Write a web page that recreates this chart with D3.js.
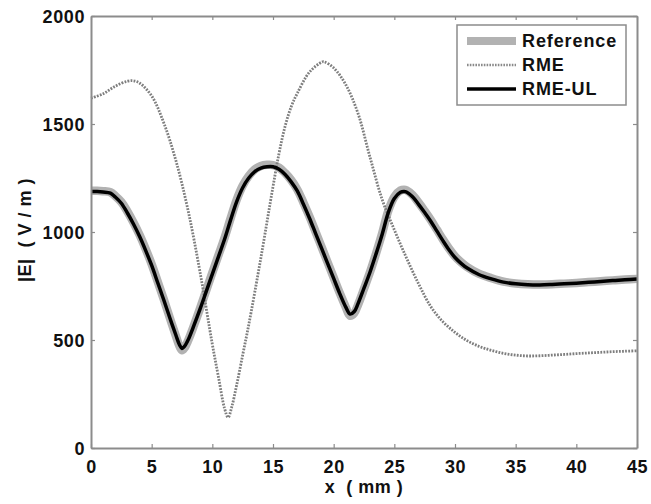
<!DOCTYPE html>
<html><head><meta charset="utf-8">
<script src="https://cdn.jsdelivr.net/npm/d3@7"></script>
<style>body{margin:0;background:#fff}</style>
</head><body>
<script>
// ---- data ----
const xTicks = [0,5,10,15,20,25,30,35,40,45];
const yTicks = [0,500,1000,1500,2000];
const seriesNames = ["Reference","RME","RME-UL"];

const rmeX = [0,1,2,3,3.5,4,5,6,7,8,9,10,10.5,11,11.3,11.6,12,12.5,13,14,15,15.5,16,16.5,17,18,19,19.2,20,21,22,23,24,25,26,27,28,29,30,31,32,33,34,35,36,37,38,39,40,41,42,43,44,45];
const rmeY = [1620,1640,1675,1698,1700,1690,1630,1505,1330,1100,810,480,330,185,142,190,290,430,570,880,1210,1365,1490,1580,1642,1740,1786,1788,1760,1682,1550,1345,1150,1010,880,760,655,585,535,497,470,452,438,430,426,427,430,433,437,440,443,446,448,450];

const ulX = [0,0.5,1,1.6,2,2.5,3,3.5,4,4.5,5,5.5,6,6.5,7,7.3,7.5,7.7,8,8.5,9,9.5,10,10.5,11,11.5,12,12.5,13,13.5,14,14.5,15,15.5,16,16.5,17,17.5,18,18.5,19,19.5,20,20.5,21,21.35,21.7,22,22.5,23,23.5,24,24.5,25,25.5,25.8,26,26.5,27,27.5,28,28.5,29,29.5,30,30.5,31,32,33,34,35,36,37,38,39,40,41,42,43,44,45];
const ulY = [1187,1187,1185,1180,1162,1133,1088,1037,980,915,845,765,685,602,522,477,461,470,500,570,645,725,805,885,965,1055,1140,1205,1250,1280,1296,1302,1302,1290,1266,1232,1190,1130,1065,995,925,855,785,715,652,620,632,667,740,815,900,990,1090,1155,1184,1188,1185,1163,1128,1090,1050,1005,960,918,882,855,833,802,783,768,760,756,755,757,760,763,767,771,775,779,782];

const refX = ulX;
const refY = [1191,1191,1189,1184,1167,1139,1095,1044,987,922,851,770,688,602,518,470,452,463,497,570,648,730,812,892,972,1062,1148,1214,1259,1290,1306,1311,1310,1298,1273,1240,1197,1137,1072,1002,931,860,789,718,652,612,625,662,737,815,902,995,1098,1163,1192,1196,1193,1171,1136,1097,1056,1011,966,924,887,860,838,806,786,770,762,758,757,758,761,764,768,772,776,780,783];

// ---- layout ----
const W = 651, H = 504;
const L = 91, R = 637, T = 16, B = 448;
const svg = d3.select("body").append("svg").attr("width", W).attr("height", H);
const x = d3.scaleLinear().domain([0,45]).range([L,R]);
const y = d3.scaleLinear().domain([0,2000]).range([B,T]);
const font = "'Liberation Sans', Arial, sans-serif";

const line = d3.line().x(d=>x(d[0])).y(d=>y(d[1])).curve(d3.curveCatmullRom.alpha(0.5));
const zip = (a,b)=>a.map((v,i)=>[v,b[i]]);

// reference (thick gray)
svg.append("path").datum(zip(refX,refY)).attr("d",line)
  .attr("fill","none").attr("stroke","#b2b2b2").attr("stroke-width",8.5).attr("stroke-linejoin","round");
// RME (dotted gray)
svg.append("path").datum(zip(rmeX,rmeY)).attr("d",line)
  .attr("fill","none").attr("stroke","#7e7e7e").attr("stroke-width",2.8).attr("stroke-dasharray","1.8,1.3");
// RME-UL (black)
svg.append("path").datum(zip(ulX,ulY)).attr("d",line)
  .attr("fill","none").attr("stroke","#000").attr("stroke-width",3.5).attr("stroke-linejoin","round");

// axes box + inward ticks
const axCol = "#8c8c8c";
const gB = svg.append("g").attr("transform",`translate(0,${B})`)
  .call(d3.axisBottom(x).tickValues(xTicks).tickSizeInner(-4).tickSizeOuter(0).tickPadding(9).tickFormat(d3.format("d")));
const gT = svg.append("g").attr("transform",`translate(0,${T})`)
  .call(d3.axisTop(x).tickValues(xTicks).tickSizeInner(-4).tickSizeOuter(0).tickFormat(""));
const gL = svg.append("g").attr("transform",`translate(${L},0)`)
  .call(d3.axisLeft(y).tickValues(yTicks).tickSizeInner(-4).tickSizeOuter(0).tickPadding(6).tickFormat(d3.format("d")));
const gR = svg.append("g").attr("transform",`translate(${R},0)`)
  .call(d3.axisRight(y).tickValues(yTicks).tickSizeInner(-4).tickSizeOuter(0).tickFormat(""));
[gB,gT,gL,gR].forEach(g=>{
  g.selectAll("path.domain").attr("stroke",axCol).attr("stroke-width",2);
  g.selectAll(".tick line").attr("stroke",axCol).attr("stroke-width",1.2);
  g.selectAll(".tick text").attr("fill","#111").style("font-family",font).style("font-weight","bold")
    .style("font-size","18px").style("letter-spacing","0.6px");
});
gB.selectAll(".tick text").attr("dy","0.9em");
gL.selectAll(".tick text").attr("dy","0.36em");

// axis titles
svg.append("text").attr("x",(L+R)/2).attr("y",493).attr("text-anchor","middle")
  .style("font-family",font).style("font-weight","bold").style("font-size","18px").attr("fill","#111")
  .style("letter-spacing","0.5px").attr("xml:space","preserve").text("x  ( mm )");
svg.append("text").attr("transform",`translate(31,230) rotate(-90)`).attr("text-anchor","middle")
  .style("font-family",font).style("font-weight","bold").style("font-size","18px").attr("fill","#111")
  .style("letter-spacing","0.5px").attr("xml:space","preserve").text("|E|  ( V / m )");

// legend
const lg = svg.append("g");
lg.append("rect").attr("x",457).attr("y",25).attr("width",169).attr("height",80)
  .attr("fill","#fff").attr("stroke",axCol).attr("stroke-width",1.5);
const lgStyles = [
  {stroke:"#b2b2b2", w:8, dash:null},
  {stroke:"#8a8a8a", w:2.5, dash:"1.6,1.2"},
  {stroke:"#000", w:3.5, dash:null}
];
const lgY = [41, 65, 89];
seriesNames.forEach((n,i)=>{
  lg.append("line").attr("x1",467).attr("x2",516).attr("y1",lgY[i]).attr("y2",lgY[i])
    .attr("stroke",lgStyles[i].stroke).attr("stroke-width",lgStyles[i].w)
    .attr("stroke-dasharray",lgStyles[i].dash);
  lg.append("text").attr("x",522).attr("y",lgY[i]).attr("dy","0.36em")
    .style("font-family",font).style("font-weight","bold").style("font-size","18px").attr("fill","#111")
    .style("letter-spacing","0.9px").text(n);
});
</script>
</body></html>
